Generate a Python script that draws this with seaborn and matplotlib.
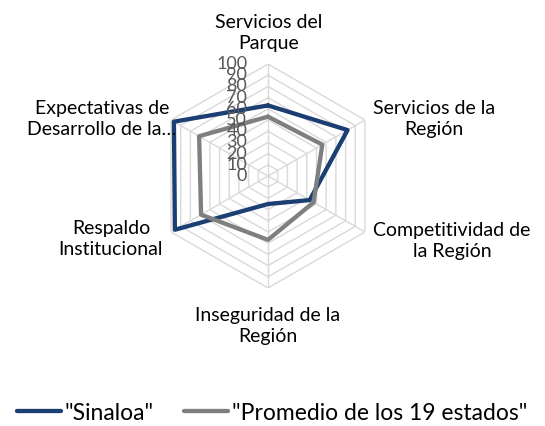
import numpy as np
import pandas as pd
import matplotlib
matplotlib.use("Agg")
import matplotlib.pyplot as plt
from matplotlib.lines import Line2D
import seaborn as sns

# ----------------------------------------
# DATA
# ----------------------------------------
categorias = [
    "Servicios del\nParque",
    "Servicios de la\nRegión",
    "Competitividad de\nla Región",
    "Inseguridad de la\nRegión",
    "Respaldo\nInstitucional",
    "Expectativas de\nDesarrollo de la…",
]
sinaloa = [63, 82, 43, 25, 96, 97]
promedio = [53, 56, 47, 57, 69, 71]
series = ['"Sinaloa"', '"Promedio de los 19 estados"']
niveles = [0, 10, 20, 30, 40, 50, 60, 70, 80, 90, 100]

# label anchor points (figure pixels, from top-left)
pos_labels = [(269, 33), (434, 119), (452, 241), (268, 326), (111, 239), (102, 119)]

colores = {series[0]: "#1B3F73", series[1]: "#7F7F7F"}
FONT = ["Lato", "DejaVu Sans"]

sns.set_style("white")
plt.rcParams["font.family"] = FONT

# ----------------------------------------
# BUILD LONG TABLE (closed polygons)
# ----------------------------------------
n = len(categorias)
ang = np.linspace(0, 2 * np.pi, n, endpoint=False)
ang_c = np.append(ang, 2 * np.pi)
rows = []
for nombre, vals in zip(series, [sinaloa, promedio]):
    vv = list(vals) + [vals[0]]
    for i, (t, v) in enumerate(zip(ang_c, vv)):
        rows.append({"serie": nombre, "theta": t, "valor": v, "orden": i})
df = pd.DataFrame(rows)

# ----------------------------------------
# FIGURE
# ----------------------------------------
W, H = 545, 426
fig = plt.figure(figsize=(W / 100, H / 100), dpi=100)
cx, cy, R = 268, 176, 112
ax = fig.add_axes([(cx - R) / W, 1 - (cy + R) / H, 2 * R / W, 2 * R / H],
                  projection="polar")
ax.set_theta_offset(np.pi / 2)
ax.set_theta_direction(-1)
ax.set_ylim(0, 100)
ax.grid(False)
ax.spines["polar"].set_visible(False)
ax.patch.set_alpha(0)

# hexagonal grid + spokes
for lv in niveles[1:]:
    ax.plot(ang_c, [lv] * len(ang_c), color="#D9D9D9", lw=1, zorder=1)
for t in ang:
    ax.plot([t, t], [0, 100], color="#D9D9D9", lw=1, zorder=1)

sns.lineplot(data=df, x="theta", y="valor", hue="serie", palette=colores,
             sort=False, estimator=None, units="serie", linewidth=3.1,
             legend=False, ax=ax, zorder=3)
ax.set_xlabel("")
ax.set_ylabel("")
ax.set_xticks([])
ax.set_yticks([])
ax.set_ylim(0, 100)

# radial tick labels
for lv in niveles:
    ax.annotate(str(lv), xy=(0, lv), xytext=(-15, 0), textcoords="offset points",
                ha="right", va="center", fontsize=13, color="#595959", zorder=4)

# category labels
for txt, (px, py) in zip(categorias, pos_labels):
    fig.text(px / W, 1 - py / H, txt, ha="center", va="center",
             fontsize=14, color="#000000", linespacing=1.3)

# legend
handles = [Line2D([0], [0], color=colores[s], lw=3.1) for s in series]
fig.legend(handles, series, loc="center", bbox_to_anchor=(272 / W, 1 - 413 / H),
           ncol=2, frameon=False, fontsize=16.5, handlelength=1.95,
           handletextpad=0.15, columnspacing=1.3, labelcolor="#000000")

fig.savefig("out.png", dpi=100)
